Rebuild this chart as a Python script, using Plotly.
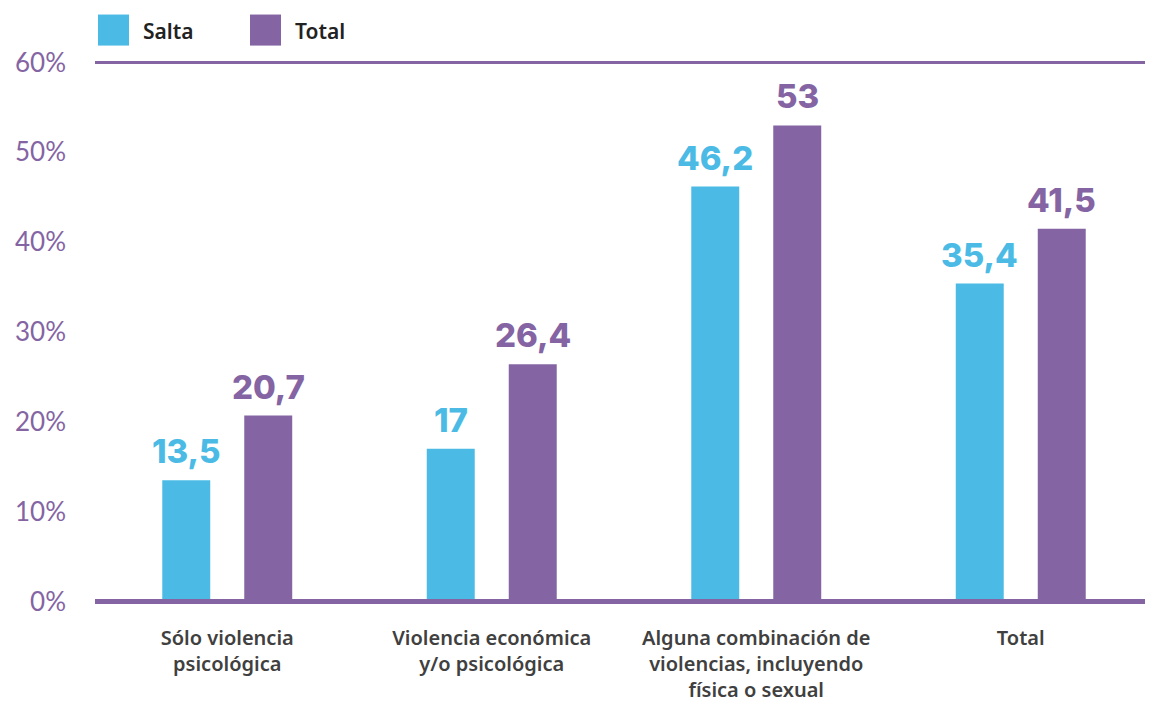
import plotly.graph_objects as go

categories = [
    "Sólo violencia<br>psicológica",
    "Violencia económica<br>y/o psicológica",
    "Alguna combinación de<br>violencias, incluyendo<br>física o sexual",
    "Total",
]
salta = [13.5, 17, 46.2, 35.4]
total = [20.7, 26.4, 53, 41.5]
series_names = ["Salta", "Total"]
y_ticks = [0, 10, 20, 30, 40, 50, 60]

CYAN = "#4BBBE6"
PURPLE = "#8464A3"


def fmt(v):
    s = ("%g" % v)
    return s.replace(".", ",")


fig = go.Figure()
series = [(series_names[0], salta, CYAN, -41), (series_names[1], total, PURPLE, 41)]
for name, vals, col, shift in series:
    fig.add_trace(go.Bar(
        x=categories, y=vals, name=name, marker=dict(color=col, line=dict(width=0)),
        showlegend=False,
    ))
    for c, v in zip(categories, vals):
        fig.add_annotation(x=c, y=v, xref="x", yref="y", text=fmt(v), showarrow=False,
                           xanchor="center", yanchor="bottom", xshift=shift, yshift=7,
                           font=dict(family="Inter, Lato, sans-serif", size=33, color=col, weight=800))

fig.update_layout(
    width=1145, height=694,
    margin=dict(l=87, r=0, t=51, b=97),
    paper_bgcolor="white", plot_bgcolor="white",
    barmode="group", bargap=0.38, bargroupgap=0.415,
    xaxis=dict(showgrid=False, zeroline=False, showline=False, ticks="", automargin=False,
               tickfont=dict(family="Noto Sans, Open Sans, sans-serif", size=20, color="#404040", weight=600),
               ticklabelstandoff=19),
    yaxis=dict(range=[-0.4, 60.4], tickvals=y_ticks, ticktext=[f"{t}%" for t in y_ticks],
               showgrid=False, zeroline=False, showline=False, ticks="", automargin=False,
               tickfont=dict(family="Lato, sans-serif", size=26, color=PURPLE),
               ticklabelstandoff=28),
    showlegend=False,
)

# axis lines at 0 and 60
fig.add_shape(type="line", xref="paper", yref="y", x0=0, x1=1, y0=y_ticks[0], y1=y_ticks[0],
              line=dict(color=PURPLE, width=5), layer="above")
fig.add_shape(type="line", xref="paper", yref="y", x0=0, x1=1, y0=y_ticks[-1], y1=y_ticks[-1],
              line=dict(color=PURPLE, width=3), layer="below")

# custom legend (positions in page pixels converted to paper fractions)
PW, PH, PT = 1058, 545.2, 604.6
for i, (name, col) in enumerate([(series_names[0], CYAN), (series_names[1], PURPLE)]):
    x0 = 98 + i * 152
    fig.add_shape(type="rect", xref="paper", yref="paper",
                  x0=(x0 - 95) / PW, x1=(x0 + 31 - 95) / PW,
                  y0=(PT - 46) / PH, y1=(PT - 15) / PH,
                  line=dict(width=0), fillcolor=col)
    fig.add_annotation(xref="paper", yref="paper", x=(x0 + 43 - 95) / PW, y=(PT - 31) / PH,
                       text=name, showarrow=False, xanchor="left", yanchor="middle",
                       font=dict(family="Noto Sans, Open Sans, sans-serif", size=21, color="#222222", weight=600))

fig.write_html("out.html")
